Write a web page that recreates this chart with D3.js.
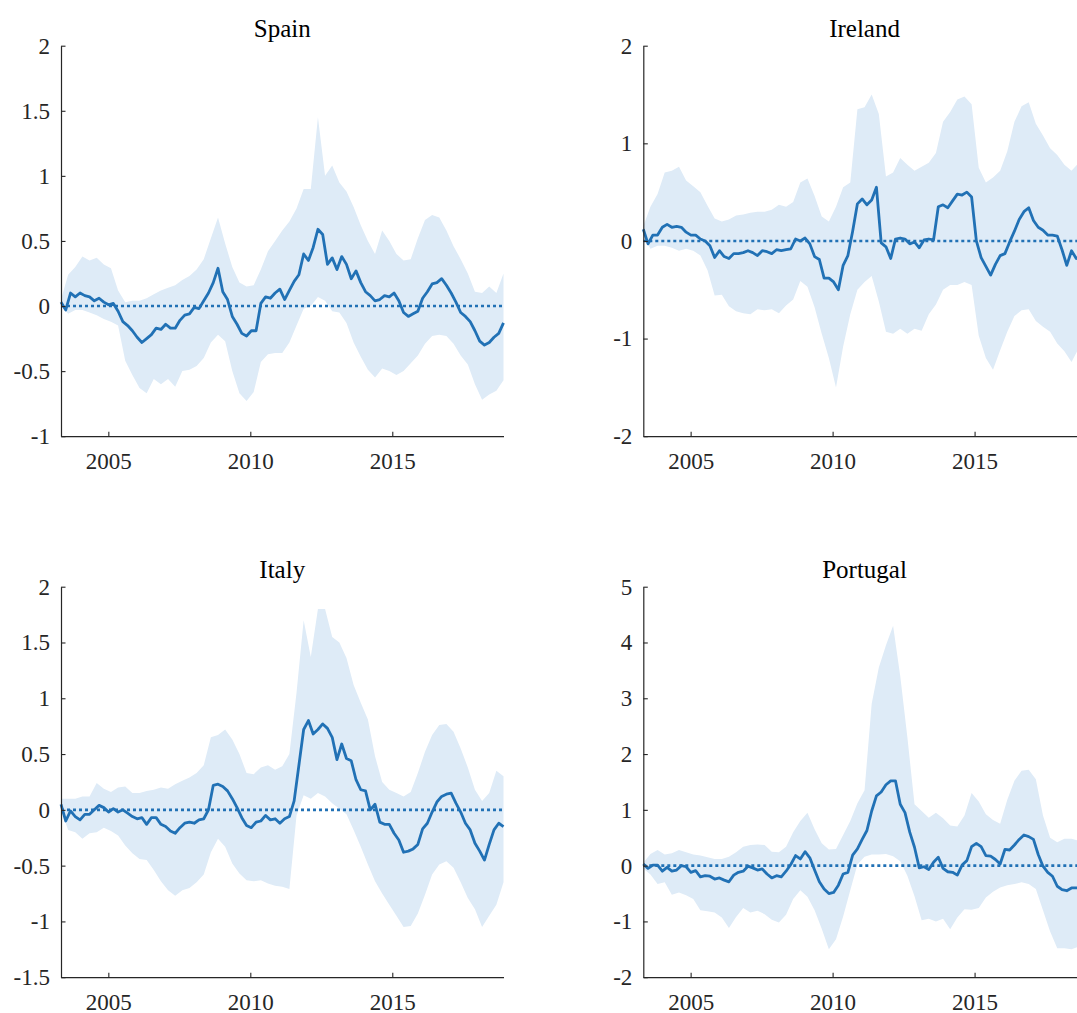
<!DOCTYPE html>
<html>
<head>
<meta charset="utf-8">
<script src="https://cdn.jsdelivr.net/npm/d3@7"></script>
<style>
  body { margin: 0; overflow: hidden; background: #fff; }
  svg { display: block; }
  svg text { font-family: "Liberation Serif", "Times New Roman", Times, serif; }
</style>
</head>
<body>
<div id="chart"></div>
<script>
// --- Data ---
// sample times: May 2003 .. Dec 2018, decimal years
const tStart = 2003 + 4 / 12;
const tEnd = 2018 + 11 / 12;
const lineTimes = d3.range(94).map(i => tStart + i * (tEnd - tStart) / 93);
const bandTimes = d3.range(63).map(i => tStart + i * (tEnd - tStart) / 62);
const xTickYears = [2005, 2010, 2015];

const countries = ["Spain", "Ireland", "Italy", "Portugal"];

const spainMedian = [0.03,-0.03,0.10,0.07,0.10,0.08,0.07,0.04,0.06,0.03,
  0.01,0.02,-0.04,-0.12,-0.15,-0.19,-0.24,-0.28,-0.25,-0.22,
  -0.17,-0.18,-0.14,-0.17,-0.17,-0.11,-0.07,-0.06,-0.01,-0.02,
  0.04,0.10,0.18,0.29,0.11,0.05,-0.08,-0.14,-0.21,-0.23,
  -0.19,-0.19,0.02,0.07,0.06,0.10,0.13,0.05,0.12,0.19,
  0.24,0.40,0.35,0.45,0.59,0.55,0.32,0.37,0.28,0.38,
  0.32,0.21,0.27,0.18,0.11,0.08,0.04,0.05,0.08,0.07,
  0.10,0.04,-0.05,-0.08,-0.06,-0.04,0.06,0.11,0.17,0.18,
  0.21,0.16,0.10,0.03,-0.05,-0.08,-0.12,-0.19,-0.27,-0.30,
  -0.28,-0.24,-0.21,-0.13];
const spainUpper = [0.05,0.24,0.30,0.38,0.35,0.37,0.32,0.29,0.12,0.03,
  0.04,0.04,0.06,0.09,0.12,0.14,0.16,0.20,0.23,0.28,
  0.36,0.52,0.68,0.48,0.30,0.18,0.15,0.16,0.28,0.42,
  0.50,0.58,0.65,0.75,0.90,0.90,1.45,1.00,1.08,0.95,
  0.88,0.76,0.62,0.50,0.40,0.58,0.50,0.40,0.35,0.36,
  0.52,0.66,0.70,0.68,0.58,0.46,0.36,0.25,0.11,0.10,
  0.15,0.10,0.25];
const spainLower = [0.00,-0.06,-0.03,-0.03,-0.05,-0.07,-0.10,-0.12,-0.15,-0.42,
  -0.53,-0.63,-0.67,-0.56,-0.60,-0.56,-0.62,-0.50,-0.49,-0.46,
  -0.40,-0.28,-0.22,-0.27,-0.50,-0.67,-0.73,-0.66,-0.43,-0.37,
  -0.36,-0.36,-0.28,-0.15,-0.02,0.00,0.07,0.04,-0.04,-0.05,
  -0.13,-0.28,-0.39,-0.49,-0.55,-0.48,-0.50,-0.53,-0.50,-0.44,
  -0.38,-0.29,-0.23,-0.22,-0.23,-0.29,-0.38,-0.45,-0.60,-0.72,
  -0.68,-0.65,-0.57];

const irelandMedian = [0.12,-0.03,0.06,0.06,0.14,0.17,0.14,0.15,0.14,0.09,
  0.06,0.06,0.02,0.00,-0.05,-0.17,-0.10,-0.16,-0.18,-0.13,
  -0.13,-0.12,-0.10,-0.12,-0.15,-0.10,-0.11,-0.13,-0.09,-0.10,
  -0.09,-0.08,0.02,0.00,0.03,-0.03,-0.16,-0.19,-0.38,-0.38,
  -0.42,-0.50,-0.25,-0.15,0.10,0.38,0.43,0.37,0.42,0.55,
  -0.02,-0.06,-0.18,0.02,0.03,0.02,-0.03,-0.01,-0.07,0.01,
  0.02,0.01,0.35,0.37,0.34,0.41,0.48,0.47,0.50,0.45,
  0.00,-0.17,-0.26,-0.35,-0.24,-0.15,-0.13,-0.01,0.10,0.22,
  0.30,0.34,0.21,0.14,0.11,0.06,0.06,0.05,-0.09,-0.25,
  -0.10,-0.18,-0.16,-0.13];
const irelandUpper = [0.15,0.35,0.48,0.70,0.72,0.76,0.62,0.56,0.50,0.36,
  0.23,0.20,0.22,0.26,0.27,0.29,0.30,0.30,0.32,0.37,
  0.35,0.40,0.60,0.64,0.46,0.25,0.20,0.35,0.55,0.60,
  1.35,1.37,1.50,1.30,0.66,0.70,0.85,0.78,0.72,0.76,
  0.80,0.90,1.22,1.32,1.45,1.48,1.40,0.75,0.60,0.65,
  0.72,0.92,1.22,1.38,1.42,1.20,1.08,0.95,0.88,0.78,
  0.72,0.80,0.75];
const irelandLower = [0.05,-0.08,-0.05,-0.05,-0.07,-0.10,-0.08,-0.10,-0.15,-0.30,
  -0.56,-0.55,-0.67,-0.72,-0.74,-0.75,-0.70,-0.71,-0.70,-0.74,
  -0.66,-0.60,-0.41,-0.47,-0.68,-0.95,-1.20,-1.50,-1.08,-0.75,
  -0.50,-0.42,-0.36,-0.62,-0.93,-0.95,-0.90,-0.95,-0.90,-0.92,
  -0.75,-0.65,-0.50,-0.45,-0.45,-0.42,-0.45,-0.97,-1.20,-1.32,
  -1.12,-0.93,-0.77,-0.71,-0.70,-0.82,-0.88,-0.93,-1.05,-1.13,
  -1.24,-1.10,-1.05];

const italyMedian = [0.05,-0.10,-0.01,-0.06,-0.09,-0.04,-0.04,0.00,0.04,0.02,
  -0.02,0.01,-0.02,0.00,-0.03,-0.06,-0.08,-0.07,-0.13,-0.07,
  -0.07,-0.13,-0.15,-0.19,-0.21,-0.16,-0.12,-0.11,-0.12,-0.09,
  -0.08,0.00,0.22,0.23,0.21,0.17,0.10,0.02,-0.07,-0.14,
  -0.16,-0.11,-0.10,-0.05,-0.09,-0.08,-0.12,-0.08,-0.06,0.08,
  0.40,0.72,0.80,0.68,0.72,0.77,0.73,0.65,0.45,0.59,
  0.46,0.44,0.27,0.18,0.17,0.00,0.05,-0.11,-0.13,-0.13,
  -0.21,-0.27,-0.38,-0.37,-0.35,-0.31,-0.17,-0.12,-0.02,0.07,
  0.12,0.14,0.15,0.06,-0.02,-0.12,-0.18,-0.30,-0.37,-0.45,
  -0.31,-0.18,-0.12,-0.15];
const italyUpper = [0.10,0.10,0.10,0.12,0.12,0.24,0.19,0.16,0.20,0.21,
  0.15,0.15,0.17,0.18,0.20,0.19,0.23,0.26,0.29,0.33,
  0.40,0.65,0.67,0.72,0.63,0.50,0.33,0.32,0.38,0.40,
  0.36,0.39,0.50,1.05,1.70,1.37,1.80,1.80,1.55,1.50,
  1.36,1.12,0.96,0.81,0.48,0.25,0.18,0.15,0.12,0.16,
  0.33,0.52,0.67,0.76,0.77,0.70,0.55,0.38,0.18,0.08,
  0.15,0.35,0.30];
const italyLower = [0.00,-0.18,-0.20,-0.26,-0.21,-0.20,-0.16,-0.19,-0.23,-0.32,
  -0.39,-0.44,-0.45,-0.54,-0.64,-0.72,-0.77,-0.72,-0.70,-0.65,
  -0.58,-0.38,-0.26,-0.33,-0.48,-0.57,-0.63,-0.64,-0.63,-0.66,
  -0.68,-0.69,-0.71,-0.05,0.13,0.10,0.15,0.12,0.06,0.01,
  -0.04,-0.18,-0.33,-0.49,-0.64,-0.75,-0.85,-0.95,-1.05,-1.04,
  -0.93,-0.76,-0.58,-0.49,-0.46,-0.52,-0.65,-0.79,-0.89,-1.05,
  -0.95,-0.85,-0.65];

const portugalMedian = [0.03,-0.05,0.01,0.01,-0.10,-0.03,-0.10,-0.08,0.00,-0.02,
  -0.12,-0.09,-0.20,-0.18,-0.19,-0.24,-0.22,-0.26,-0.29,-0.17,
  -0.12,-0.10,-0.01,-0.04,-0.08,-0.06,-0.15,-0.22,-0.18,-0.20,
  -0.10,0.02,0.18,0.12,0.25,0.14,-0.08,-0.29,-0.42,-0.50,
  -0.48,-0.35,-0.15,-0.12,0.19,0.30,0.47,0.63,0.98,1.25,
  1.32,1.45,1.52,1.52,1.10,0.95,0.60,0.33,-0.04,-0.02,
  -0.07,0.06,0.15,-0.05,-0.11,-0.12,-0.17,0.01,0.09,0.34,
  0.40,0.34,0.18,0.17,0.11,0.03,0.29,0.28,0.37,0.47,
  0.55,0.52,0.47,0.20,-0.01,-0.12,-0.19,-0.37,-0.43,-0.45,
  -0.40,-0.40,-0.40,-0.38];
const portugalUpper = [0.05,0.21,0.28,0.20,0.22,0.28,0.24,0.20,0.18,0.15,
  0.12,0.12,0.16,0.24,0.34,0.37,0.38,0.37,0.25,0.24,
  0.34,0.60,0.80,0.95,0.65,0.40,0.29,0.30,0.55,0.80,
  1.12,1.35,2.90,3.55,3.95,4.30,3.40,2.30,1.10,0.98,
  0.86,0.95,0.85,0.72,0.70,0.90,1.30,1.15,0.92,0.82,
  0.75,1.18,1.52,1.70,1.72,1.55,0.90,0.50,0.42,0.48,
  0.48,0.45,0.45];
const portugalLower = [-0.05,-0.16,-0.33,-0.30,-0.52,-0.48,-0.53,-0.60,-0.80,-0.82,
  -0.84,-0.93,-1.12,-0.92,-0.76,-0.84,-0.81,-0.87,-0.97,-1.02,
  -0.88,-0.60,-0.44,-0.56,-0.80,-1.13,-1.50,-1.32,-0.91,-0.44,
  0.02,0.16,0.20,0.20,0.21,0.17,0.08,-0.18,-0.55,-0.98,
  -0.95,-1.00,-0.95,-1.14,-0.93,-0.78,-0.79,-0.76,-0.57,-0.47,
  -0.39,-0.35,-0.33,-0.30,-0.33,-0.42,-0.80,-1.18,-1.48,-1.48,
  -1.50,-1.45,-1.45];

// y axis ranges and ticks per panel
const yDomains = [[-1, 2], [-2, 2], [-1.5, 2], [-2, 5]];
const yTicks = [
  [-1, -0.5, 0, 0.5, 1, 1.5, 2],
  [-2, -1, 0, 1, 2],
  [-1.5, -1, -0.5, 0, 0.5, 1, 1.5, 2],
  [-2, -1, 0, 1, 2, 3, 4, 5]
];

const medians = [spainMedian, irelandMedian, italyMedian, portugalMedian];
const uppers = [spainUpper, irelandUpper, italyUpper, portugalUpper];
const lowers = [spainLower, irelandLower, italyLower, portugalLower];

// --- Layout ---
const W = 1077, H = 1013;
const plotW = 442.5, plotH = 390.5;
const panelPos = [
  { left: 61, top: 45.7 },
  { left: 643.3, top: 45.7 },
  { left: 61, top: 586.7 },
  { left: 643.3, top: 586.7 }
];

const lineColor = "#2171b5";
const bandColor = "#deebf7";
const axisColor = "#262626";

const svg = d3.select("#chart")
  .append("svg")
  .attr("width", W)
  .attr("height", H);

const fmt = d => String(d);

countries.forEach((name, p) => {
  const g = svg.append("g")
    .attr("transform", `translate(${panelPos[p].left},${panelPos[p].top})`);

  // --- Scales ---
  const x = d3.scaleLinear().domain([tStart, tEnd]).range([0, plotW]);
  const y = d3.scaleLinear().domain(yDomains[p]).range([plotH, 0]);

  // --- Band (lower / upper) ---
  const bandData = bandTimes.map((t, i) => ({ t, lo: lowers[p][i], hi: uppers[p][i] }));
  g.append("path")
    .datum(bandData)
    .attr("fill", bandColor)
    .attr("d", d3.area()
      .x(d => x(d.t))
      .y0(d => y(d.lo))
      .y1(d => y(d.hi)));

  // --- Zero reference line ---
  g.append("line")
    .attr("x1", x(tStart))
    .attr("x2", x(tEnd))
    .attr("y1", y(0))
    .attr("y2", y(0))
    .attr("stroke", lineColor)
    .attr("stroke-width", 2.6)
    .attr("stroke-dasharray", "3,3");

  // --- Median line ---
  const lineData = lineTimes.map((t, i) => ({ t, v: medians[p][i] }));
  g.append("path")
    .datum(lineData)
    .attr("fill", "none")
    .attr("stroke", lineColor)
    .attr("stroke-width", 2.8)
    .attr("stroke-linejoin", "round")
    .attr("d", d3.line()
      .x(d => x(d.t))
      .y(d => y(d.v)));

  // --- Axes (ticks pointing inward) ---
  const xAxis = g.append("g")
    .attr("transform", `translate(0,${plotH})`)
    .call(d3.axisBottom(x)
      .tickValues(xTickYears)
      .tickFormat(d3.format("d"))
      .tickSizeInner(-4.5)
      .tickSizeOuter(0)
      .tickPadding(16));

  const yAxis = g.append("g")
    .call(d3.axisLeft(y)
      .tickValues(yTicks[p])
      .tickFormat(fmt)
      .tickSizeInner(-4.5)
      .tickSizeOuter(0)
      .tickPadding(11));

  [xAxis, yAxis].forEach(a => {
    a.attr("font-family", null);
    a.select(".domain").attr("stroke", axisColor).attr("stroke-width", 1.2);
    a.selectAll(".tick line").attr("stroke", axisColor).attr("stroke-width", 1.1);
    a.selectAll(".tick text")
      .attr("fill", axisColor)
      .style("font-size", "23px");
  });

  // --- Title ---
  g.append("text")
    .attr("x", plotW / 2)
    .attr("y", -8.7)
    .attr("text-anchor", "middle")
    .attr("fill", "#000")
    .style("font-size", "25px")
    .text(name);
});
</script>
</body>
</html>
